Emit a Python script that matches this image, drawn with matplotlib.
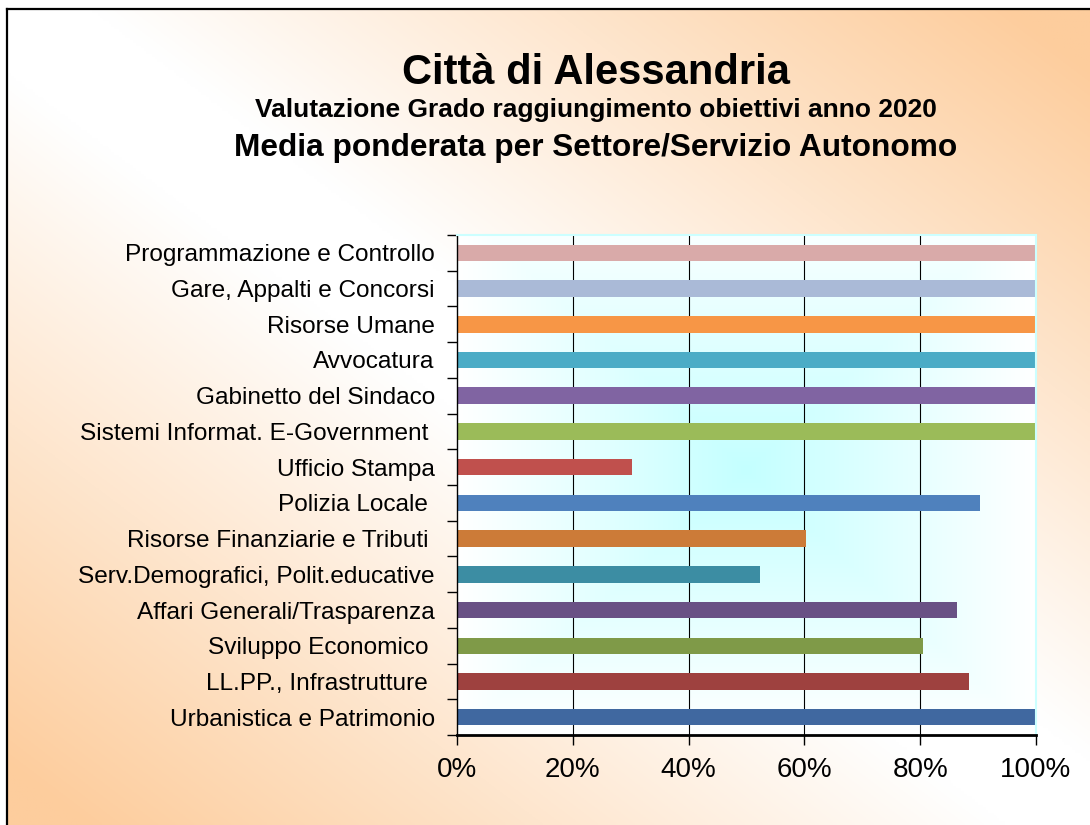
import numpy as np
import matplotlib
matplotlib.use("Agg")
import matplotlib.pyplot as plt
from matplotlib.colors import to_rgb

plt.rcParams['font.family'] = ['Liberation Sans', 'DejaVu Sans']

# data (top to bottom as in the chart)
settori = ["Programmazione e Controllo", "Gare, Appalti e Concorsi", "Risorse Umane",
           "Avvocatura", "Gabinetto del Sindaco", "Sistemi Informat. E-Government ",
           "Ufficio Stampa", "Polizia Locale ", "Risorse Finanziarie e Tributi ",
           "Serv.Demografici, Polit.educative", "Affari Generali/Trasparenza",
           "Sviluppo Economico ", "LL.PP., Infrastrutture ", "Urbanistica e Patrimonio"]
valori = [100, 100, 100, 100, 100, 100, 30.3, 90.3, 60.3, 52.3, 86.4, 80.5, 88.4, 100]
colori = ["#D9AAA9", "#AABAD7", "#F79646", "#4BACC6", "#8064A2", "#9BBB59",
          "#C0504D", "#4F81BD", "#CC7B38", "#3C8DA3", "#695185", "#7F9A48",
          "#9E413F", "#4068A0"]
tick_pct = [0, 20, 40, 60, 80, 100]

W, H = 1090, 825
fig = plt.figure(figsize=(W / 100, H / 100), dpi=100)
fig.patch.set_facecolor("white")

# background with diagonal gradient (white band, orange corners)
bg = fig.add_axes([7 / W, 0, 1 - 7 / W, 1 - 9 / H], zorder=-10)
U, V = np.meshgrid(np.linspace(0, 1, 400), np.linspace(0, 1, 300))
t = np.clip((np.abs(U - V) - 0.08) / 0.85, 0, 1)[..., None]
img = np.array(to_rgb("white")) * (1 - t) + np.array(to_rgb("#FDCD9D")) * t
bg.imshow(img, aspect="auto", extent=[0, 1, 0, 1], origin="upper")
bg.set_xticks([])
bg.set_yticks([])
for s in ["right", "bottom"]:
    bg.spines[s].set_visible(False)
for s in ["top", "left"]:
    bg.spines[s].set_linewidth(1.6)
    bg.spines[s].set_color("black")

# titles
cx = 596 / W
fig.text(cx, 1 - 84 / H, "Città di Alessandria", ha="center", va="baseline",
         fontsize=30, fontweight="bold")
fig.text(cx, 1 - 117 / H, "Valutazione Grado raggiungimento obiettivi anno 2020",
         ha="center", va="baseline", fontsize=19, fontweight="bold")
fig.text(cx, 1 - 156 / H, "Media ponderata per Settore/Servizio Autonomo",
         ha="center", va="baseline", fontsize=22.8, fontweight="bold")

ax = fig.add_axes([457 / W, 1 - 735 / H, 579 / W, 500 / H])

# plot area gradient, light cyan in the middle
X, Y = np.meshgrid(np.linspace(0, 1, 300), np.linspace(0, 1, 300))
d = np.maximum(np.abs(X - 0.5) / 0.5, np.abs(Y - 0.47) / 0.53)
t2 = np.clip(1 - d, 0, 1)[..., None]
img2 = np.array(to_rgb("white")) * (1 - t2) + np.array(to_rgb("#C4FFFF")) * t2
ax.imshow(img2, aspect="auto", extent=[0, 1, 0, 1], origin="upper",
          transform=ax.transAxes, zorder=0)

n = len(settori)
pos = np.arange(n)[::-1]
ax.barh(pos, valori, height=0.46, color=colori, zorder=3)

for v in tick_pct[1:-1]:
    ax.axvline(v, color="black", lw=0.8, zorder=2)

ax.set_xlim(0, 100)
ax.set_ylim(-0.5, n - 0.5)

ax.set_xticks(tick_pct)
ax.set_xticklabels([f"{v}%" for v in tick_pct], fontsize=20)
ax.tick_params(axis="x", length=7, width=1, pad=9, direction="out")

ax.set_yticks(np.arange(n + 1) - 0.5)
ax.set_yticklabels([])
ax.set_yticks(pos, minor=True)
ax.set_yticklabels(settori, minor=True, fontsize=17.6)
ax.tick_params(axis="y", which="major", length=7, width=1, direction="out")
ax.tick_params(axis="y", which="minor", length=0, pad=16)

ax.spines["left"].set_linewidth(1.0)
ax.spines["bottom"].set_linewidth(2.0)
ax.spines["top"].set_color("#CCFFFF")
ax.spines["right"].set_color("#CCFFFF")
ax.spines["top"].set_linewidth(1.5)
ax.spines["right"].set_linewidth(1.5)
for s in ax.spines.values():
    s.set_zorder(4)

fig.savefig("out.png", dpi=100)
